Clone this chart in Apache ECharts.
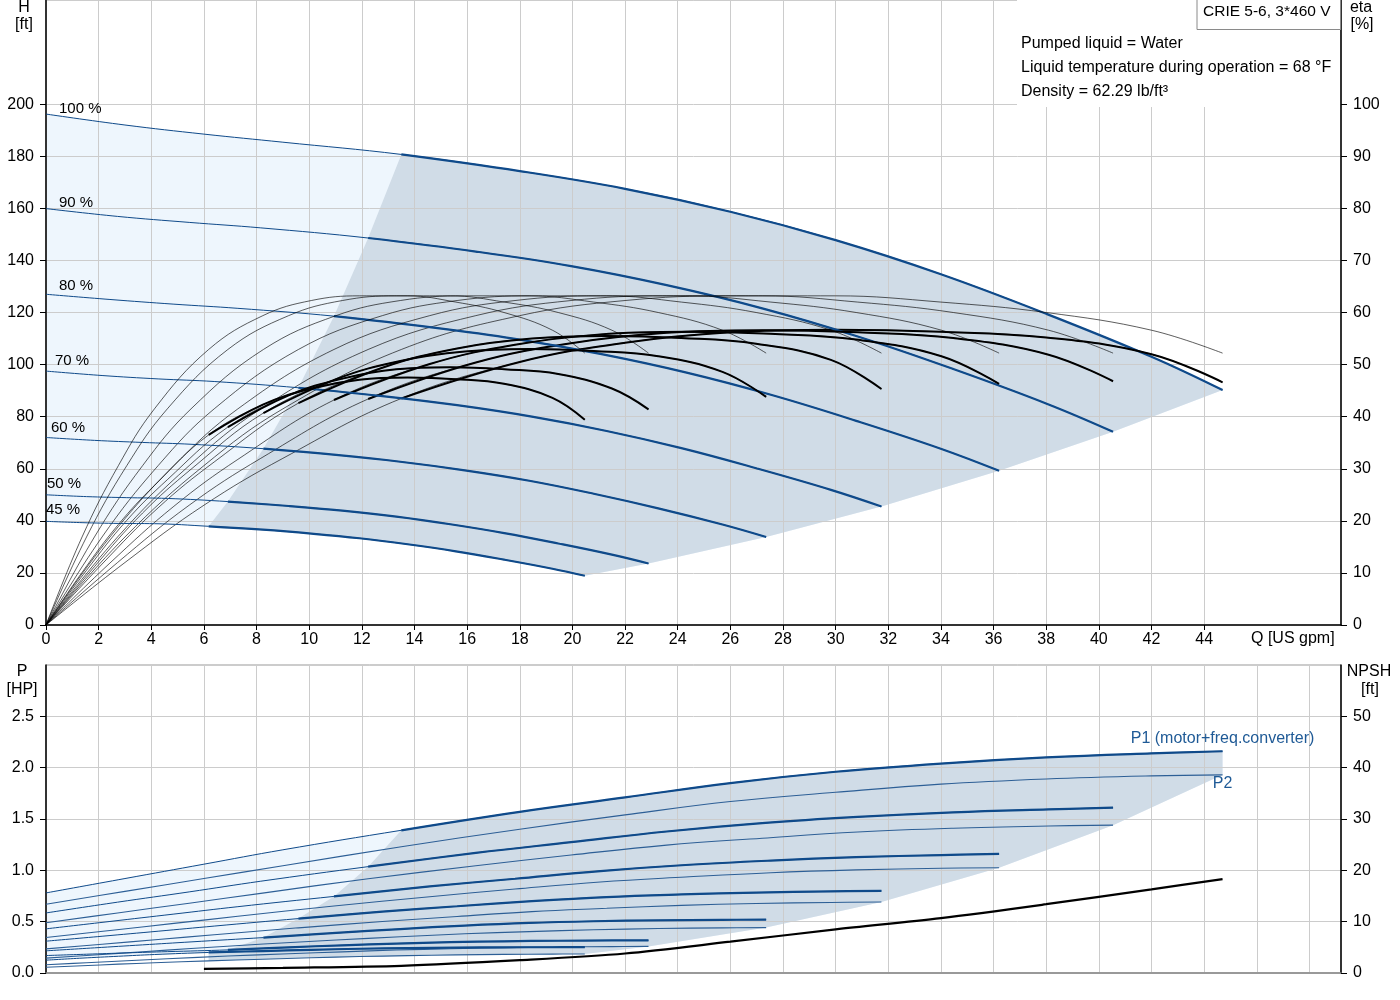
<!DOCTYPE html>
<html>
<head>
<meta charset="utf-8">
<script src="https://cdn.jsdelivr.net/npm/echarts@6/dist/echarts.min.js"></script>
<style>
html, body { margin: 0; padding: 0; background: #fff; }
#chart { width: 1400px; height: 1000px; }
</style>
</head>
<body>
<div id="chart"></div>
<script>
// speed curves
const speeds = ["100 %", "90 %", "80 %", "70 %", "60 %", "50 %", "45 %"];

// flow points of each speed curve [US gpm]
const q100 = [0, 3, 6, 9, 13.5, 18, 22, 26, 30, 34, 38, 42, 44.7];
const q90 = [0, 2.72, 5.44, 8.16, 12.24, 16.33, 19.95, 23.58, 27.21, 30.84, 34.47, 38.09, 40.54];
const q80 = [0, 2.43, 4.86, 7.29, 10.94, 14.58, 17.82, 21.06, 24.3, 27.54, 30.78, 34.02, 36.21];
const q70 = [0, 2.13, 4.26, 6.39, 9.59, 12.78, 15.62, 18.46, 21.3, 24.14, 26.98, 29.82, 31.74];
const q60 = [0, 1.84, 3.67, 5.51, 8.26, 11.02, 13.46, 15.91, 18.36, 20.81, 23.26, 25.7, 27.36];
const q50 = [0, 1.54, 3.07, 4.61, 6.91, 9.22, 11.26, 13.31, 15.36, 17.41, 19.46, 21.5, 22.89];
const q45 = [0, 1.37, 2.75, 4.12, 6.18, 8.24, 10.08, 11.91, 13.74, 15.57, 17.4, 19.24, 20.47];

// head [ft]
const h100 = [196.2, 192, 188.5, 185.4, 180.7, 174.3, 167.5, 158.7, 147.8, 134.7, 119.5, 103, 90.2];
const h90 = [159.9, 156.9, 154.6, 152.5, 148.6, 143.4, 137.8, 130.5, 121.6, 110.8, 98.3, 84.7, 74.2];
const h80 = [127, 125, 123.2, 121.6, 118.6, 114.4, 109.9, 104.1, 97, 88.4, 78.4, 67.6, 59.2];
const h70 = [97.5, 95.8, 94.5, 93.5, 91.1, 87.9, 84.4, 80, 74.5, 67.9, 60.2, 51.9, 45.5];
const h60 = [72, 70.9, 70.1, 69.4, 67.7, 65.3, 62.7, 59.4, 55.4, 50.4, 44.8, 38.6, 33.8];
const h50 = [50, 49.3, 48.9, 48.6, 47.4, 45.7, 43.9, 41.6, 38.7, 35.3, 31.3, 27, 23.6];
const h45 = [39.8, 39.3, 39, 38.9, 37.9, 36.6, 35.1, 33.3, 31, 28.3, 25.1, 21.6, 18.9];

// pump efficiency [%] (thin curves, same reading at each speed)
const etaPump = [0, 16.9, 30.6, 41.5, 52.9, 59.4, 62.3, 63.2, 63.2, 62, 60, 56.6, 52.2];

// total efficiency [%]
const eta100 = [0, 12, 23, 32, 43.5, 50.5, 54.2, 56.2, 56.7, 56.3, 55.2, 52, 46.6];
const eta90 = [0, 12, 23, 32, 43.4, 50.4, 54.1, 56.1, 56.6, 56.2, 55.1, 51.9, 46.8];
const eta80 = [0, 11.9, 22.8, 31.8, 43.2, 50.1, 53.8, 55.8, 56.3, 55.9, 54.8, 51.6, 46.3];
const eta70 = [0, 11.7, 22.5, 31.3, 42.6, 49.4, 53.1, 55, 55.5, 55.1, 54, 50.9, 45.3];
const eta60 = [0, 11.2, 21.5, 29.9, 40.7, 47.2, 50.7, 52.5, 53, 52.6, 51.6, 48.6, 43.8];
const eta50 = [0, 10.5, 20.1, 27.9, 38, 44.1, 47.3, 49.1, 49.5, 49.1, 48.2, 45.4, 41.4];
const eta45 = [0, 10.1, 19.3, 26.8, 36.5, 42.3, 45.4, 47.1, 47.5, 47.2, 46.3, 43.6, 39.4];

// P1 motor+freq.converter [HP]
const p1_100 = [0.78, 0.92, 1.06, 1.2, 1.39, 1.57, 1.71, 1.85, 1.96, 2.04, 2.1, 2.14, 2.16];
const p1_90 = [0.585, 0.69, 0.79, 0.894, 1.036, 1.17, 1.274, 1.378, 1.46, 1.52, 1.565, 1.594, 1.61];
const p1_80 = [0.43, 0.502, 0.574, 0.646, 0.746, 0.843, 0.918, 0.993, 1.052, 1.095, 1.128, 1.149, 1.16];
const p1_70 = [0.31, 0.358, 0.407, 0.457, 0.53, 0.598, 0.65, 0.7, 0.74, 0.765, 0.783, 0.795, 0.8];
const p1_60 = [0.216, 0.245, 0.274, 0.303, 0.345, 0.39, 0.428, 0.462, 0.488, 0.504, 0.513, 0.518, 0.52];
const p1_50 = [0.17, 0.183, 0.196, 0.208, 0.225, 0.25, 0.27, 0.287, 0.3, 0.309, 0.314, 0.317, 0.318];
const p1_45 = [0.125, 0.145, 0.163, 0.18, 0.2, 0.214, 0.226, 0.236, 0.243, 0.247, 0.25, 0.251, 0.252];

// P2 shaft power [HP]
const p2_100 = [0.67, 0.795, 0.92, 1.045, 1.23, 1.4, 1.54, 1.67, 1.76, 1.84, 1.89, 1.92, 1.93];
const p2_90 = [0.49, 0.585, 0.68, 0.776, 0.918, 1.044, 1.149, 1.246, 1.313, 1.373, 1.41, 1.432, 1.44];
const p2_80 = [0.346, 0.414, 0.483, 0.552, 0.653, 0.743, 0.818, 0.887, 0.935, 0.977, 1.004, 1.02, 1.025];
const p2_70 = [0.235, 0.28, 0.326, 0.372, 0.44, 0.501, 0.551, 0.598, 0.63, 0.659, 0.677, 0.687, 0.691];
const p2_60 = [0.145, 0.176, 0.207, 0.238, 0.282, 0.321, 0.353, 0.382, 0.403, 0.421, 0.433, 0.44, 0.442];
const p2_50 = [0.08, 0.1, 0.12, 0.139, 0.165, 0.188, 0.206, 0.224, 0.236, 0.247, 0.253, 0.257, 0.259];
const p2_45 = [0.056, 0.071, 0.086, 0.1, 0.118, 0.134, 0.148, 0.16, 0.169, 0.177, 0.181, 0.184, 0.185];

// NPSH [ft]
const npshQ = [6, 9, 13.5, 18, 22, 26, 30, 34, 38, 42, 44.7];
const npshVal = [0.8, 1.0, 1.4, 2.5, 3.8, 6.1, 8.5, 10.7, 13.4, 16.3, 18.3];

// tick labels
const qTicks = [0, 2, 4, 6, 8, 10, 12, 14, 16, 18, 20, 22, 24, 26, 28, 30, 32, 34, 36, 38, 40, 42, 44];
const hTicks = [0, 20, 40, 60, 80, 100, 120, 140, 160, 180, 200];
const etaTicks = [0, 10, 20, 30, 40, 50, 60, 70, 80, 90, 100];
const pTicks = [0, 0.5, 1, 1.5, 2, 2.5];
const npshTicks = [0, 10, 20, 30, 40, 50];

const qAll = [q100, q90, q80, q70, q60, q50, q45];
const hAll = [h100, h90, h80, h70, h60, h50, h45];
const etaAll = [eta100, eta90, eta80, eta70, eta60, eta50, eta45];
const p1All = [p1_100, p1_90, p1_80, p1_70, p1_60, p1_50, p1_45];
const p2All = [p2_100, p2_90, p2_80, p2_70, p2_60, p2_50, p2_45];
const opStart = 4; // first point of the operating range

// label offsets of the speed texts
const labelOffset = [[13, -5], [13, -6], [13, -8], [9, -10], [5, -10], [1, -11], [0, -11]];

const blue = "#0f4a8a";
const font = "Liberation Sans, Arial, sans-serif";

const pairs = (q, v) => q.map((x, i) => [x, v[i]]);

function line(data, xi, yi, color, width, extra) {
  return Object.assign({
    type: "line", xAxisIndex: xi, yAxisIndex: yi, data: data,
    smooth: 0.4, showSymbol: false, symbol: "none", silent: true,
    lineStyle: { color: color, width: width }, z: 3
  }, extra || {});
}

function poly(xi, yi, pts, color) {
  return {
    type: "custom", xAxisIndex: xi, yAxisIndex: yi, z: -1, silent: true,
    data: [[0, 0]],
    renderItem: function (params, api) {
      return {
        type: "polygon",
        shape: { points: pts.map(p => api.coord(p)) },
        style: { fill: color }
      };
    }
  };
}

const last = q100.length - 1;

// top operating area
const topLight = [], topDark = [];
for (let i = 0; i <= last; i++) topLight.push([q100[i], h100[i]]);
for (let s = 1; s < 7; s++) topLight.push([qAll[s][last], hAll[s][last]]);
for (let i = last - 1; i >= 0; i--) topLight.push([q45[i], h45[i]]);
for (let i = opStart; i <= last; i++) topDark.push([q100[i], h100[i]]);
for (let s = 1; s < 7; s++) topDark.push([qAll[s][last], hAll[s][last]]);
for (let i = last - 1; i >= opStart; i--) topDark.push([q45[i], h45[i]]);
for (let s = 5; s >= 1; s--) topDark.push([qAll[s][opStart], hAll[s][opStart]]);

// bottom operating area
const botLight = [], botDark = [];
for (let i = 0; i <= last; i++) botLight.push([q100[i], p1_100[i]]);
for (let s = 0; s < 7; s++) botLight.push([qAll[s][last], p2All[s][last]]);
for (let i = last - 1; i >= opStart; i--) botLight.push([q45[i], p2_45[i]]);
for (let i = opStart; i >= 0; i--) botLight.push([q45[i], p1_45[i]]);
for (let i = opStart; i <= last; i++) botDark.push([q100[i], p1_100[i]]);
for (let s = 0; s < 7; s++) botDark.push([qAll[s][last], p2All[s][last]]);
for (let i = last - 1; i >= opStart; i--) botDark.push([q45[i], p2_45[i]]);
for (let s = 6; s >= 1; s--) botDark.push([qAll[s][opStart], p1All[s][opStart]]);

const series = [
  poly(0, 0, topLight, "#eef6fd"),
  poly(0, 0, topDark, "#d0dce7"),
  poly(1, 2, botLight, "#eef6fd"),
  poly(1, 2, botDark, "#d0dce7")
];

for (let s = 0; s < 7; s++) {
  const q = qAll[s];
  // head, thin over the whole range with the speed text on the first point
  const hData = pairs(q, hAll[s]);
  hData[0] = {
    value: hData[0],
    label: {
      show: true, position: "right", distance: 0, offset: labelOffset[s],
      formatter: speeds[s], color: "#000", fontSize: 15, fontFamily: font
    }
  };
  series.push(line(hData, 0, 0, blue, 1, { showSymbol: true, symbol: "circle", symbolSize: 0 }));
  series.push(line(pairs(q, hAll[s]).slice(opStart), 0, 0, blue, 2.2));
  // efficiencies
  series.push(line(pairs(q, etaPump), 0, 1, "rgba(0,0,0,0.8)", 0.8));
  series.push(line(pairs(q, etaAll[s]), 0, 1, "rgba(0,0,0,0.8)", 0.8));
  series.push(line(pairs(q, etaAll[s]).slice(opStart), 0, 1, "#000", 2));
  // power
  const p2Data = pairs(q, p2All[s]);
  const p1Data = pairs(q, p1All[s]);
  if (s === 0) {
    p1Data[last] = {
      value: p1Data[last],
      label: { show: true, position: "top", distance: 5, formatter: "P1 (motor+freq.converter)",
        color: "#1f5a96", fontSize: 16, fontFamily: font }
    };
    p2Data[last] = {
      value: p2Data[last],
      label: { show: true, position: "bottom", distance: 1, formatter: "P2",
        color: "#1f5a96", fontSize: 16, fontFamily: font }
    };
  }
  series.push(line(p2Data, 1, 2, "#2d5f96", 1.1, { showSymbol: true, symbol: "circle", symbolSize: 0 }));
  series.push(line(p1Data, 1, 2, blue, 1, { showSymbol: true, symbol: "circle", symbolSize: 0 }));
  series.push(line(pairs(q, p1All[s]).slice(opStart), 1, 2, blue, 2.2));
}
series.push(line(pairs(npshQ, npshVal), 1, 3, "#000", 2.2, { smooth: 0.3 }));

const axisText = { color: "#000", fontSize: 16, fontFamily: font };
const gridLine = { show: true, lineStyle: { color: "#cccccc", width: 1 } };

function yAx(grid, pos, min, max, interval, ticks, fmt, split) {
  return {
    type: "value", gridIndex: grid, position: pos, min: min, max: max, interval: interval,
    axisLine: { show: true, lineStyle: { color: "#000", width: 1.5 } },
    axisTick: { show: true, length: 6, customValues: ticks, lineStyle: { color: "#000" } },
    axisLabel: Object.assign({ customValues: ticks, margin: 12, formatter: fmt }, axisText),
    splitLine: split ? gridLine : { show: false }
  };
}

const chart = echarts.init(document.getElementById("chart"));
chart.setOption({
  animation: false,
  backgroundColor: "#fff",
  grid: [
    { left: 46, top: 0, width: 1295, height: 625, show: true, borderColor: "#999", borderWidth: 1, backgroundColor: "transparent" },
    { left: 46, top: 665, width: 1295, height: 308, show: true, borderColor: "#999", borderWidth: 1, backgroundColor: "transparent" }
  ],
  xAxis: [
    {
      type: "value", gridIndex: 0, min: 0, max: 49.2, interval: 2,
      axisLine: { onZero: false, lineStyle: { color: "#000", width: 1.5 } },
      axisTick: { show: true, length: 5, customValues: qTicks, lineStyle: { color: "#000" } },
      axisLabel: Object.assign({ customValues: qTicks, margin: 7 }, axisText),
      splitLine: gridLine
    },
    {
      type: "value", gridIndex: 1, min: 0, max: 49.2, interval: 2,
      axisLine: { onZero: false, lineStyle: { color: "#888", width: 1.5 } },
      axisTick: { show: false },
      axisLabel: { show: false },
      splitLine: gridLine
    }
  ],
  yAxis: [
    yAx(0, "left", 0, 240, 20, hTicks, v => v, true),
    yAx(0, "right", 0, 120, 10, etaTicks, v => v, false),
    yAx(1, "left", 0, 3, 0.5, pTicks, v => v.toFixed(1), true),
    yAx(1, "right", 0, 60, 10, npshTicks, v => v, false)
  ],
  graphic: [
    { type: "rect", z: 50, shape: { x: 1017, y: 0, width: 323, height: 107 }, style: { fill: "#fff" } },
    { type: "rect", z: 51, shape: { x: 1197, y: -1, width: 143.5, height: 30.5 }, style: { fill: "#fff", stroke: "#8a8a8a", lineWidth: 1 } },
    { type: "text", z: 52, x: 1203, y: 12, style: { text: "CRIE 5-6, 3*460 V", font: "15.5px " + font, fill: "#000", textVerticalAlign: "middle" } },
    { type: "text", z: 52, x: 1021, y: 44, style: { text: "Pumped liquid = Water", font: "16px " + font, fill: "#000", textVerticalAlign: "middle" } },
    { type: "text", z: 52, x: 1021, y: 68, style: { text: "Liquid temperature during operation = 68 °F", font: "16px " + font, fill: "#000", textVerticalAlign: "middle" } },
    { type: "text", z: 52, x: 1021, y: 92, style: { text: "Density = 62.29 lb/ft³", font: "16px " + font, fill: "#000", textVerticalAlign: "middle" } },
    { type: "text", z: 52, x: 24, y: 8, style: { text: "H", font: "16px " + font, fill: "#000", textAlign: "center", textVerticalAlign: "middle" } },
    { type: "text", z: 52, x: 24, y: 25, style: { text: "[ft]", font: "16px " + font, fill: "#000", textAlign: "center", textVerticalAlign: "middle" } },
    { type: "text", z: 52, x: 1361, y: 8, style: { text: "eta", font: "16px " + font, fill: "#000", textAlign: "center", textVerticalAlign: "middle" } },
    { type: "text", z: 52, x: 1362, y: 25, style: { text: "[%]", font: "16px " + font, fill: "#000", textAlign: "center", textVerticalAlign: "middle" } },
    { type: "text", z: 52, x: 22, y: 672, style: { text: "P", font: "16px " + font, fill: "#000", textAlign: "center", textVerticalAlign: "middle" } },
    { type: "text", z: 52, x: 22, y: 690, style: { text: "[HP]", font: "16px " + font, fill: "#000", textAlign: "center", textVerticalAlign: "middle" } },
    { type: "text", z: 52, x: 1369, y: 672, style: { text: "NPSH", font: "16px " + font, fill: "#000", textAlign: "center", textVerticalAlign: "middle" } },
    { type: "text", z: 52, x: 1370, y: 690, style: { text: "[ft]", font: "16px " + font, fill: "#000", textAlign: "center", textVerticalAlign: "middle" } },
    { type: "text", z: 52, x: 1251, y: 639, style: { text: "Q [US gpm]", font: "16px " + font, fill: "#000", textVerticalAlign: "middle" } }
  ],
  series: series
});
</script>
</body>
</html>
